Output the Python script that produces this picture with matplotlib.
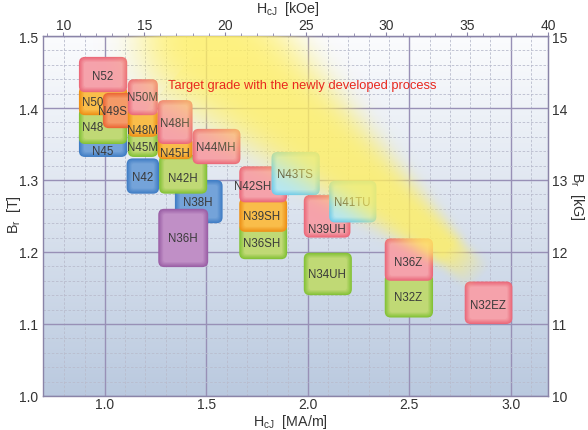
import numpy as np
import matplotlib.pyplot as plt
from matplotlib.patches import FancyBboxPatch
from matplotlib.colors import to_rgb

plt.rcParams['font.family'] = ['Liberation Sans', 'DejaVu Sans']
plt.rcParams['mathtext.fontset'] = 'custom'
plt.rcParams['mathtext.rm'] = 'Liberation Sans'

# grade boxes in draw order: HcJ range [MA/m], Br range [T]
grades = ['N45', 'N48', 'N50', 'N52', 'N49S', 'N42', 'N45M', 'N48M', 'N50M',
          'N38H', 'N36H', 'N42H', 'N45H', 'N48H', 'N44MH',
          'N36SH', 'N39SH', 'N42SH', 'N43TS', 'N34UH', 'N39UH', 'N41TU',
          'N32Z', 'N36Z', 'N32EZ']
hcj_lo = [0.872, 0.872, 0.872, 0.872, 0.990, 1.107, 1.113, 1.113, 1.113,
          1.345, 1.263, 1.267, 1.260, 1.260, 1.432,
          1.662, 1.662, 1.662, 1.821, 1.980, 1.980, 2.105,
          2.379, 2.379, 2.773]
hcj_hi = [1.110, 1.110, 1.110, 1.110, 1.148, 1.267, 1.261, 1.261, 1.261,
          1.580, 1.509, 1.504, 1.432, 1.432, 1.668,
          1.898, 1.898, 1.898, 2.059, 2.217, 2.210, 2.338,
          2.617, 2.617, 3.008]
br_lo = [1.332, 1.350, 1.390, 1.422, 1.372, 1.281, 1.332, 1.360, 1.390,
         1.240, 1.179, 1.281, 1.329, 1.350, 1.322,
         1.190, 1.228, 1.269, 1.279, 1.140, 1.220, 1.241,
         1.109, 1.160, 1.100]
br_hi = [1.370, 1.400, 1.430, 1.471, 1.421, 1.330, 1.370, 1.400, 1.440,
         1.300, 1.260, 1.335, 1.360, 1.411, 1.371,
         1.240, 1.275, 1.319, 1.339, 1.199, 1.279, 1.299,
         1.170, 1.219, 1.159]
tone = ['blue', 'green', 'orange', 'pink', 'coral', 'blue', 'green', 'orange', 'pink',
        'blue', 'purple', 'green', 'orange', 'pink', 'pink',
        'green', 'orange', 'pink', 'cyan', 'green', 'pink', 'cyan',
        'green', 'pink', 'pink']
# where each grade name sits (visible part of the box)
label_x = [0.990, 0.941, 0.941, 0.990, 1.039, 1.187, 1.187, 1.187, 1.187,
           1.458, 1.384, 1.384, 1.345, 1.345, 1.547,
           1.773, 1.773, 1.729, 1.936, 2.094, 2.094, 2.217,
           2.493, 2.493, 2.887]
label_y = [1.340, 1.374, 1.408, 1.444, 1.396, 1.304, 1.346, 1.369, 1.415,
           1.269, 1.219, 1.303, 1.338, 1.379, 1.346,
           1.213, 1.250, 1.292, 1.308, 1.169, 1.232, 1.269,
           1.138, 1.186, 1.126]

palette = {
    'pink': ('#eb6a7b', '#f5a2ab'),
    'orange': ('#ee9118', '#f9bd4a'),
    'green': ('#84c238', '#c0d975'),
    'blue': ('#417ec5', '#74a3d9'),
    'purple': ('#9b60a6', '#c08fc6'),
    'cyan': ('#72cdee', '#b4e7f6'),
    'coral': ('#ec6836', '#f59a68'),
}

XLIM = (0.695, 3.1835)
YLIM = (1.0, 1.5)
W, H = 588, 431

fig = plt.figure(figsize=(W / 100, H / 100), dpi=100)
ax = fig.add_axes([43 / W, 34 / H, 505 / W, 360 / H])
ax.set_xlim(*XLIM)
ax.set_ylim(*YLIM)

# pixels per data unit
sx = 505 / (XLIM[1] - XLIM[0])
sy = 360 / (YLIM[1] - YLIM[0])

# background gradient
grad = np.linspace(0, 1, 256)[:, None]
top = np.array([0.985, 0.988, 0.995])
bot = np.array([0.73, 0.79, 0.875])
bg = top + (bot - top) * grad[..., None]
bg = np.repeat(bg, 2, axis=1)
ax.imshow(bg, extent=(*XLIM, *YLIM), origin='upper', aspect='auto', zorder=0)

# grid
ax.set_xticks([1.0, 1.5, 2.0, 2.5, 3.0])
ax.set_xticks(np.arange(0.8, 3.15, 0.1), minor=True)
ax.set_yticks([1.0, 1.1, 1.2, 1.3, 1.4, 1.5])
ax.set_yticks(np.arange(1.02, 1.5, 0.02), minor=True)
ax.grid(which='major', color='#9890b6', lw=1.0, zorder=1)
ax.grid(which='minor', color='#b9bccd', lw=0.6, ls=(0, (3, 2)), zorder=1)
ax.set_axisbelow(True)
ax.tick_params(which='both', length=0, labelsize=10, colors='#333333')
ax.tick_params(axis='x', pad=1)
ax.set_xticklabels(['1.0', '1.5', '2.0', '2.5', '3.0'])
ax.set_yticklabels(['1.0', '1.1', '1.2', '1.3', '1.4', '1.5'])
for s in ax.spines.values():
    s.set_color('#8a84a8')
    s.set_linewidth(1.0)


def draw_box(x0, x1, y0, y1, edge, face):
    c0 = np.array(to_rgb(edge))
    c1 = np.array(to_rgb(face))
    n = 6
    for k in range(n):
        ins = k * 1.0
        col = c0 + (c1 - c0) * (k / (n - 1))
        dx, dy = ins / sx, ins / sy
        r = max(6.0 - ins * 0.7, 1.5) / sx
        ax.add_patch(FancyBboxPatch(
            (x0 + dx, y0 + dy), x1 - x0 - 2 * dx, y1 - y0 - 2 * dy,
            boxstyle=f"round,pad=0,rounding_size={r}",
            mutation_aspect=sx / sy, fc=col, ec='none', zorder=3))


for i, g in enumerate(grades):
    e, f = palette[tone[i]]
    draw_box(hcj_lo[i], hcj_hi[i], br_lo[i], br_hi[i], e, f)
for i, g in enumerate(grades):
    ax.text(label_x[i], label_y[i], g, ha='center', va='center',
            fontsize=8.3, color='#3a3a3a', zorder=4)

# yellow band for the target grade (rounded start, tapering to the right)
nx, ny = 1010, 720
xs = np.linspace(0, 505, nx)
ys = np.linspace(0, 360, ny)
X, Y = np.meshgrid(xs, ys)
p0 = np.array([166.0, 2.0])
p1 = np.array([414.0, 220.0])
L = np.hypot(*(p1 - p0))
ux, uy = (p1 - p0) / L
t = ((X - p0[0]) * ux + (Y - p0[1]) * uy) / L
d = -(X - p0[0]) * uy + (Y - p0[1]) * ux
w = 72 + (16 - 72) * np.clip(t, 0, 1)
r = np.where(t < 0, np.hypot(X - p0[0], Y - p0[1]), np.abs(d - 0.08 * w))
a = 0.8 * np.exp(-(r / w) ** 3.5)
a *= np.clip((1.1 - t) * L / 45, 0, 1)
band = np.zeros((ny, nx, 4))
band[..., 0] = 1.0
band[..., 1] = 0.94
band[..., 2] = 0.38
band[..., 3] = a
ax.imshow(band, extent=(*XLIM, *YLIM), origin='upper', aspect='auto',
          zorder=5, interpolation='bilinear')

ax.text(1.31, 1.432, 'Target grade with the newly developed process',
        fontsize=9.3, color='#e8281e', va='center', ha='left', zorder=6)

# secondary axes
top_ax = ax.secondary_xaxis('top', functions=(lambda x: x * 4 * np.pi,
                                               lambda k: k / (4 * np.pi)))
top_ax.set_xticks([10, 15, 20, 25, 30, 35, 40])
top_ax.set_xticks(np.arange(9, 41, 1), minor=True)
top_ax.tick_params(which='major', length=3, labelsize=10, colors='#333333',
                   pad=0, color='#8a84a8')
top_ax.tick_params(which='minor', length=2, color='#8a84a8')
top_ax.spines['top'].set_color('#8a84a8')

right_ax = ax.secondary_yaxis('right', functions=(lambda y: y * 10,
                                                  lambda k: k / 10))
right_ax.set_yticks([10, 11, 12, 13, 14, 15])
right_ax.tick_params(length=0, labelsize=10, colors='#333333', pad=3)
right_ax.spines['right'].set_color('#8a84a8')

# axis titles
lab = dict(fontsize=10.3, color='#333333', ha='center', va='center')
fig.text(288 / W, 1 - 9 / H, r'H$_\mathregular{cJ}$  [kOe]', **lab)
fig.text(290 / W, 1 - 422.5 / H, r'H$_\mathregular{cJ}$  [MA/m]', **lab)
fig.text(14 / W, 1 - 215 / H, r'B$_\mathregular{r}$  [T]', rotation=90, **lab)
fig.text(577 / W, 1 - 196 / H, r'B$_\mathregular{r}$  [kG]', rotation=-90, **lab)

fig.savefig('out.png', dpi=100)
